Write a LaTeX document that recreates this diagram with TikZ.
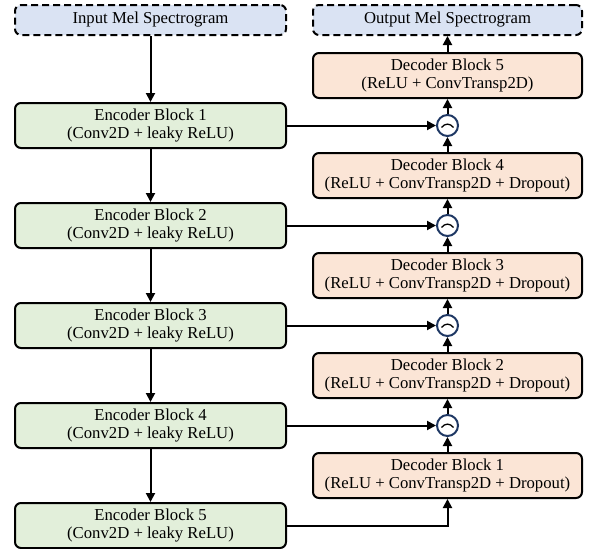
\documentclass[tikz,border=0pt]{standalone}
\usepackage{fontspec}
\setmainfont{Liberation Serif}
\usetikzlibrary{arrows.meta,calc}
\definecolor{ioblue}{HTML}{DAE3F3}
\definecolor{encgreen}{HTML}{E2EFDA}
\definecolor{decorange}{HTML}{FBE5D6}
\definecolor{catnavy}{HTML}{1F3864}
\tikzset{
  blockbase/.style={draw=black, line width=2pt, rounded corners=6pt, align=center,
    font=\fontsize{16.7}{18.5}\selectfont, inner sep=0pt},
  iobox/.style={blockbase, fill=ioblue, dash pattern=on 7pt off 4pt,
    minimum height=30pt},
  encbox/.style={blockbase, fill=encgreen, minimum width=271pt, minimum height=45pt},
  decbox/.style={blockbase, fill=decorange, minimum width=269pt, minimum height=45pt},
  catnode/.style={circle, draw=catnavy, line width=2pt, minimum size=21pt, inner sep=0pt, fill=white},
  flow/.style={draw=black, line width=2pt, -{Triangle[length=9pt,width=9pt]}},
}
\begin{document}
\begin{tikzpicture}[x=1pt,y=-1pt]
\useasboundingbox (0,0) rectangle (595,549);

% input / output spectrograms
\node[iobox, minimum width=271pt] (in) at (150.5,20) {Input Mel Spectrogram};
\node[iobox, minimum width=269pt] (out) at (447.5,20) {Output Mel Spectrogram};

% encoder column
\foreach \k in {1,...,5}{
  \node[encbox] (enc\k) at (150.5,{125.5+(\k-1)*100}) {Encoder Block \k\\(Conv2D + leaky ReLU)};
}

% decoder column
\node[decbox] (dec5) at (447.5,75.5) {Decoder Block 5\\(ReLU + ConvTransp2D)};
\foreach \k in {4,3,2,1}{
  \node[decbox] (dec\k) at (447.5,{75.5+(5-\k)*100}) {Decoder Block \k\\(ReLU + ConvTransp2D + Dropout)};
}

% concatenation points
\foreach \k in {1,...,4}{
  \node[catnode] (cat\k) at (447.5,{125.5+(\k-1)*100}) {};
  \draw[line width=1.3pt] ($(cat\k)+(-6,2)$) .. controls ($(cat\k)+(-2.5,-2.5)$) and ($(cat\k)+(2.5,-2.5)$) .. ($(cat\k)+(6,2)$);
}

% encoder chain
\draw[flow] (in) -- (enc1);
\foreach \a/\b in {1/2,2/3,3/4,4/5}{
  \draw[flow] (enc\a) -- (enc\b);
}

% skip connections into the concatenation points
\foreach \k in {1,...,4}{
  \draw[flow] (enc\k) -- (cat\k);
}
\draw[flow] (enc5.east) -| (dec1.south);

% decoder chain through the concatenation points
\draw[flow] (dec1) -- (cat4);
\draw[flow] (cat4) -- (dec2);
\draw[flow] (dec2) -- (cat3);
\draw[flow] (cat3) -- (dec3);
\draw[flow] (dec3) -- (cat2);
\draw[flow] (cat2) -- (dec4);
\draw[flow] (dec4) -- (cat1);
\draw[flow] (cat1) -- (dec5);
\draw[flow] (dec5) -- (out);
\end{tikzpicture}
\end{document}
